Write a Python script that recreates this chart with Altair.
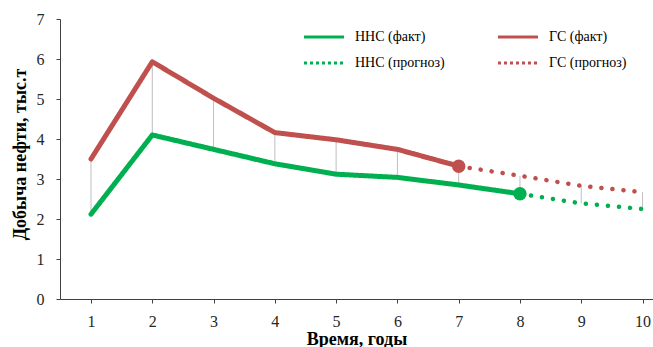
import altair as alt
import pandas as pd

years = [1, 2, 3, 4, 5, 6, 7, 8, 9, 10]
nns = [2.12, 4.10, 3.74, 3.38, 3.12, 3.04, 2.85, 2.63, 2.39, 2.25]
gs = [3.50, 5.93, 5.02, 4.16, 3.98, 3.74, 3.32, 3.08, 2.83, 2.67]
nns_fact_end = 8
gs_fact_end = 7

# order chosen so that the 2-column legend (filled column by column) reads like the reference
series_names = ["ННС (факт)", "ННС (прогноз)", "ГС (факт)", "ГС (прогноз)"]
series_colors = ["#00B050", "#00B050", "#C0504D", "#C0504D"]
series_dash = [[1, 0], [3, 3], [1, 0], [3, 3]]

GREEN = "#00B050"
RED = "#C0504D"
FONT = "Times New Roman, Liberation Serif, DejaVu Serif, serif"

fact_rows = []
for y, v in zip(years, nns):
    if y <= nns_fact_end:
        fact_rows.append({"year": y, "value": v, "series": series_names[0]})
for y, v in zip(years, gs):
    if y <= gs_fact_end:
        fact_rows.append({"year": y, "value": v, "series": series_names[2]})
fact_df = pd.DataFrame(fact_rows)

nns_fc = pd.DataFrame([{"year": y, "value": v} for y, v in zip(years, nns) if y >= nns_fact_end])
gs_fc = pd.DataFrame([{"year": y, "value": v} for y, v in zip(years, gs) if y >= gs_fact_end])

rules_df = pd.DataFrame({"year": years, "low": nns, "high": gs})

nns_pt = pd.DataFrame([{"year": y, "value": v} for y, v in zip(years, nns) if y == nns_fact_end])
gs_pt = pd.DataFrame([{"year": y, "value": v} for y, v in zip(years, gs) if y == gs_fact_end])

xscale = alt.Scale(domain=[0.494, 10.171], nice=False, zero=False)
yscale = alt.Scale(domain=[0, 7], nice=False)

xaxis = alt.Axis(
    values=years, format="d", title="Время, годы", grid=False,
    labelFont=FONT, titleFont=FONT,
    labelFontSize=16, labelColor="#262626", labelOverlap=False,
    titleFontSize=18, titleFontWeight="bold", titleColor="#000000",
    tickSize=4, labelPadding=10, titleY=45, titleBaseline="alphabetic",
    domainColor="#404040", tickColor="#404040",
)
yaxis = alt.Axis(
    values=[0, 1, 2, 3, 4, 5, 6, 7], title="Добыча нефти, тыс.т", grid=False,
    labelFont=FONT, titleFont=FONT,
    labelFontSize=16, labelColor="#262626", labelOverlap=False,
    titleFontSize=18, titleFontWeight="bold", titleColor="#000000",
    tickSize=4, labelPadding=12, titleX=-31, titleY=135,
    domainColor="#404040", tickColor="#404040",
)

X = alt.X("year:Q", scale=xscale, axis=xaxis)

legend = alt.Legend(
    title=None, orient="none", legendX=257, legendY=11, columns=2,
    symbolType="M-4,0H4", symbolSize=100, symbolStrokeWidth=3,
    labelFont=FONT, labelFontSize=14, labelColor="#000000",
    labelOffset=24, columnPadding=47, rowPadding=12, padding=0,
)

rules = alt.Chart(rules_df).mark_rule(color="#BFBFBF", strokeWidth=1).encode(
    x=X,
    y=alt.Y("low:Q", scale=yscale, axis=yaxis),
    y2="high:Q",
)

def Yv():
    return alt.Y("value:Q", scale=yscale, axis=yaxis)

fact = alt.Chart(fact_df).mark_line(strokeWidth=5, strokeCap="round", strokeJoin="round").encode(
    x=X,
    y=Yv(),
    color=alt.Color(
        "series:N",
        scale=alt.Scale(domain=series_names, range=series_colors),
        legend=legend,
    ),
    strokeDash=alt.StrokeDash(
        "series:N",
        scale=alt.Scale(domain=series_names, range=series_dash),
        legend=legend,
    ),
)

nns_line = alt.Chart(nns_fc).mark_line(
    color=GREEN, strokeWidth=4.5, strokeDash=[0.1, 11], strokeCap="round"
).encode(x=X, y=Yv())
gs_line = alt.Chart(gs_fc).mark_line(
    color=RED, strokeWidth=4.5, strokeDash=[0.1, 11], strokeCap="round"
).encode(x=X, y=Yv())

nns_dot = alt.Chart(nns_pt).mark_circle(color=GREEN, size=180, opacity=1).encode(x=X, y=Yv())
gs_dot = alt.Chart(gs_pt).mark_circle(color=RED, size=180, opacity=1).encode(x=X, y=Yv())

chart = alt.layer(rules, nns_line, gs_line, fact, nns_dot, gs_dot).properties(
    width=593, height=280,
    autosize=alt.AutoSizeParams(type="none"),
    padding={"left": 60, "top": 19, "right": 0, "bottom": 48},
    background="#FFFFFF",
).configure(font=FONT).configure_axis(
    labelFont=FONT, titleFont=FONT
).configure_legend(labelFont=FONT).configure_view(stroke=None)

chart.save("out.html", embed_options={"renderer": "svg", "actions": False})
